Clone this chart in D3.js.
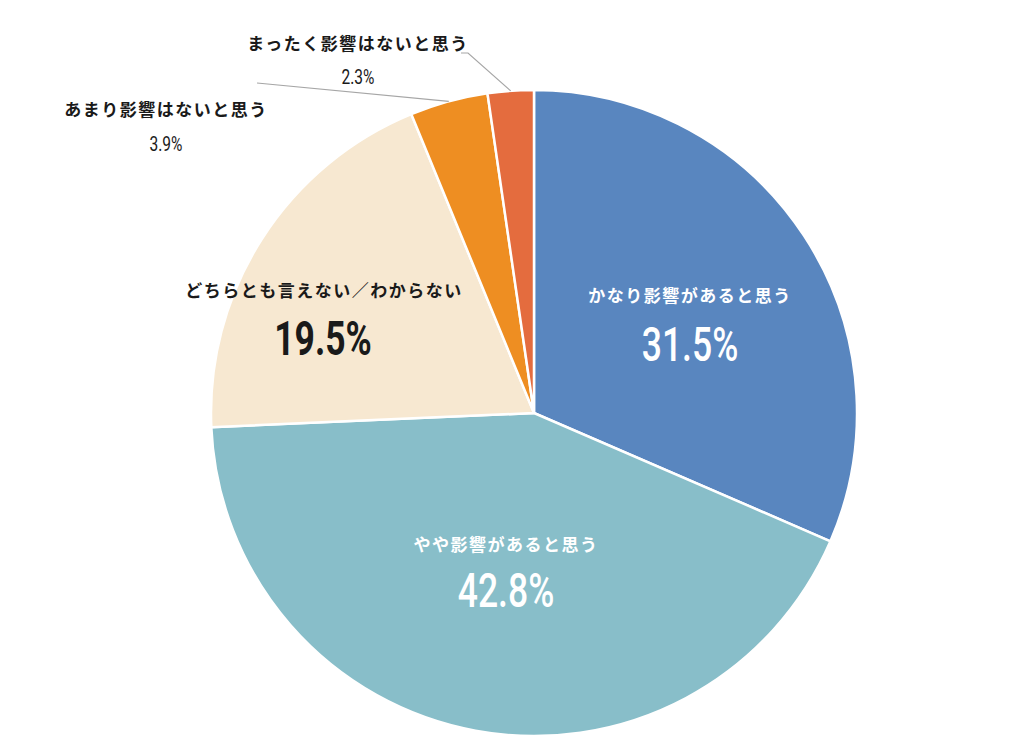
<!DOCTYPE html>
<html>
<head>
<meta charset="utf-8">
<script src="https://cdn.jsdelivr.net/npm/d3@7"></script>
<style>
  body { margin: 0; background: #fff; }
  svg text { font-family: "Noto Sans CJK JP", sans-serif; }
  .num { font-family: Roboto, "DejaVu Sans", sans-serif; }
</style>
</head>
<body>
<svg id="chart" width="1024" height="747"></svg>
<script>
// chart values
var categories = ['かなり影響があると思う', 'やや影響があると思う', 'どちらとも言えない／わからない', 'あまり影響はないと思う', 'まったく影響はないと思う'];
var values = [31.5, 42.8, 19.5, 3.9, 2.3];
var colors = ['#5986bf', '#88bec9', '#f7e8d1', '#ee8e22', '#e46c3e'];

var cx = 534, cy = 413, R = 323;

var svg = d3.select('#chart');
var g = svg.append('g').attr('transform', 'translate(' + cx + ',' + cy + ')');

var pie = d3.pie().sort(null).value(function(d){ return d; });
var arcs = pie(values);
var arc = d3.arc().innerRadius(0).outerRadius(R);
var edge = d3.arc().innerRadius(R).outerRadius(R);

g.selectAll('path.slice')
  .data(arcs)
  .enter().append('path')
  .attr('class', 'slice')
  .attr('d', arc)
  .attr('fill', function(d, i){ return colors[i]; })
  .attr('stroke', '#fff')
  .attr('stroke-width', 2.5);

// label layout (absolute page coords)
var labels = [
  { name: [690, 302], num: [690, 361], color: '#fff', numSize: 48, weight: 500 },
  { name: [506, 551], num: [506, 607], color: '#fff', numSize: 48, weight: 500 },
  { name: [324, 297], num: [323, 355], color: '#1a1a1a', numSize: 48, weight: 700 },
  { name: [166, 116], num: [166, 151], color: '#1a1a1a', numSize: 21, weight: 400 },
  { name: [358, 50], num: [358, 84], color: '#1a1a1a', numSize: 21, weight: 400 }
];

// leader lines for small slices
var leaders = [
  { i: 3, from: [257, 83] },
  { i: 4, from: [461, 53], knee: [468, 53] }
];
leaders.forEach(function(l) {
  var c = edge.centroid(arcs[l.i]);
  var pts = [l.from];
  if (l.knee) pts.push(l.knee);
  pts.push([cx + c[0], cy + c[1]]);
  svg.append('path')
    .attr('d', d3.line()(pts))
    .attr('fill', 'none')
    .attr('stroke', '#a6a6a6')
    .attr('stroke-width', 1.2);
});

labels.forEach(function(l, i) {
  svg.append('text')
    .attr('x', l.name[0]).attr('y', l.name[1])
    .attr('text-anchor', 'middle')
    .attr('font-size', 17)
    .attr('font-weight', 700)
    .attr('letter-spacing', 1.5)
    .attr('fill', l.color)
    .text(categories[i]);
  // condensed look for the numbers
  svg.append('text')
    .attr('class', 'num')
    .attr('transform', 'translate(' + l.num[0] + ',' + l.num[1] + ') scale(0.74,1)')
    .attr('text-anchor', 'middle')
    .attr('font-size', l.numSize)
    .attr('font-weight', l.weight)
    .attr('fill', l.color)
    .text(values[i].toFixed(1) + '%');
});
</script>
</body>
</html>
